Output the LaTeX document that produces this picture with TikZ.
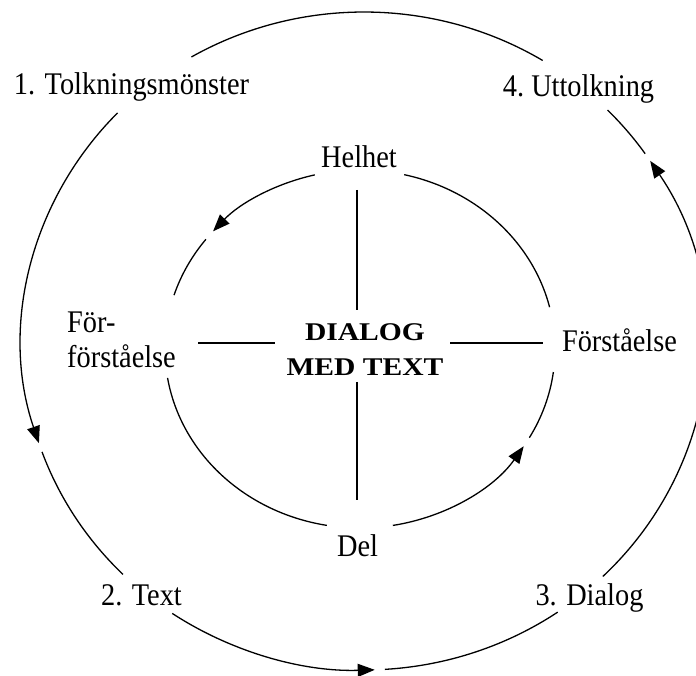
\documentclass[tikz,border=0pt]{standalone}
\usepackage{fontspec}
\setmainfont{Liberation Serif}[FakeStretch=0.9]
\newfontfamily\dlgfont{Liberation Serif}[FakeStretch=1.16]
\usetikzlibrary{arrows.meta}
\begin{document}
\begin{tikzpicture}[x=1pt,y=1pt,
  lbl/.style={inner sep=0pt, font=\fontsize{31.5}{35}\selectfont},
  midlbl/.style={inner sep=0pt, align=center, font=\dlgfont\fontsize{25.5}{35}\selectfont\bfseries},
  ring/.style={line width=1.3pt},
  cross/.style={line width=1.3pt},
  tipd/.style={-{Triangle[length=17pt,width=13pt]}}]
\useasboundingbox (0,0) rectangle (696,675);
\clip (0,0) rectangle (696,675);
% centres of the two rings
\coordinate (O) at (364,334);
\coordinate (I) at (360,326);
% outer labels
\node[lbl, anchor=base] (t1) at (131.5,580) {1. Tolkningsmönster};
\node[lbl, anchor=base] (t4) at (578.5,578) {4.\ Uttolkning};
\node[lbl, anchor=base] (t2) at (141.5,70) {2. Text};
\node[lbl, anchor=base] (t3) at (589.5,70) {3. Dialog};
% inner labels
\node[lbl, anchor=base] (hel) at (359,507) {Helhet};
\node[lbl, anchor=base] (del) at (357.5,118) {Del};
\node[lbl, anchor=base] (forst) at (619.5,323) {Förståelse};
\node[lbl, anchor=west, align=left] (forf) at (67,335) {För-\\förståelse};
\node[midlbl] (mid) at (365,325.5) {DIALOG\\MED TEXT};
% outer ring
\draw[ring] (O) ++(58.5:342pt and 329pt) arc[start angle=58.5, end angle=120.3, x radius=342pt, y radius=329pt];
\draw[ring, tipd] (O) ++(136.1:342pt and 329pt) arc[start angle=136.1, end angle=198.1, x radius=342pt, y radius=329pt];
\draw[ring] (O) ++(199.7:342pt and 329pt) arc[start angle=199.7, end angle=225.2, x radius=342pt, y radius=329pt];
\draw[ring, tipd] (O) ++(235.9:342pt and 329pt) arc[start angle=235.9, end angle=271.8, x radius=342pt, y radius=329pt];
\draw[ring] (O) ++(273.5:342pt and 329pt) arc[start angle=273.5, end angle=304.5, x radius=342pt, y radius=329pt];
\draw[ring, tipd] (O) ++(-45.7:342pt and 329pt) arc[start angle=-45.7, end angle=33.2, x radius=342pt, y radius=329pt];
\draw[ring] (O) ++(34.7:342pt and 329pt) arc[start angle=34.7, end angle=44.6, x radius=342pt, y radius=329pt];
% inner ring
\draw[ring, tipd] (I) ++(103.4:195pt and 179pt) arc[start angle=103.4, end angle=138.9, x radius=195pt, y radius=179pt];
\draw[ring] (I) ++(142.2:195pt and 179pt) arc[start angle=142.2, end angle=162.5, x radius=195pt, y radius=179pt];
\draw[ring] (I) ++(189.3:195pt and 179pt) arc[start angle=189.3, end angle=260.2, x radius=195pt, y radius=179pt];
\draw[ring, tipd] (I) ++(279.7:195pt and 179pt) arc[start angle=279.7, end angle=327.1, x radius=195pt, y radius=179pt];
\draw[ring] (I) ++(330.3:195pt and 179pt) arc[start angle=330.3, end angle=352.6, x radius=195pt, y radius=179pt];
\draw[ring] (I) ++(13.5:195pt and 179pt) arc[start angle=13.5, end angle=76.9, x radius=195pt, y radius=179pt];
% cross
\coordinate (vt1) at (357,485);
\coordinate (vt2) at (357,365);
\coordinate (vb1) at (357,293);
\coordinate (vb2) at (357,175);
\coordinate (hl1) at (198,332);
\coordinate (hl2) at (275,332);
\coordinate (hr1) at (450,332);
\coordinate (hr2) at (543,332);
\draw[cross] (vt1) -- (vt2);
\draw[cross] (vb1) -- (vb2);
\draw[cross] (hl1) -- (hl2);
\draw[cross] (hr1) -- (hr2);
\end{tikzpicture}
\end{document}
